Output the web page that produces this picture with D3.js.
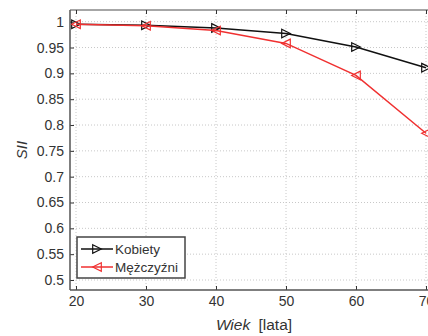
<!DOCTYPE html>
<html>
<head>
<meta charset="utf-8">
<script src="https://cdn.jsdelivr.net/npm/d3@7"></script>
<style>
  body { margin: 0; background: #fff; }
  svg { display: block; font-family: "Liberation Sans", Arial, sans-serif; }
</style>
</head>
<body>
<div id="chart"></div>
<script>
// data
const ages = [20, 30, 40, 50, 60, 70];
const kobiety = [0.995, 0.993, 0.988, 0.977, 0.951, 0.911];
const mezczyzni = [0.995, 0.992, 0.983, 0.958, 0.896, 0.784];
const yTicks = [0.5, 0.55, 0.6, 0.65, 0.7, 0.75, 0.8, 0.85, 0.9, 0.95, 1];
const seriesNames = ["Kobiety", "Mężczyźni"];

const width = 428, height = 336;
const plotLeft = 70, plotTop = 10, plotBottom = 290, plotRight = 440;

const svg = d3.select("#chart").append("svg")
    .attr("width", width)
    .attr("height", height);

// scales, the plot runs past the right edge of the picture
const x = d3.scaleLinear().domain([20, 70]).range([76, 426]);
const y = d3.scaleLinear().domain([0.5, 1]).range([280, 21.7]);

// grid
const grid = svg.append("g").attr("stroke", "#c8c8c8").attr("stroke-dasharray", "1,2");
grid.selectAll(".gy").data(yTicks).enter().append("line")
    .attr("x1", plotLeft).attr("x2", plotRight)
    .attr("y1", d => y(d)).attr("y2", d => y(d));
grid.selectAll(".gx").data(ages).enter().append("line")
    .attr("x1", d => x(d)).attr("x2", d => x(d))
    .attr("y1", plotTop).attr("y2", plotBottom);

// frame
svg.append("line").attr("x1", plotLeft).attr("x2", plotRight).attr("y1", plotTop).attr("y2", plotTop)
    .attr("stroke", "#888").attr("stroke-width", 1.5);

// axes with inner ticks
const yAxis = d3.axisLeft(y).tickValues(yTicks).tickSize(-4).tickPadding(6)
    .tickFormat(d => d3.format("")(+d.toFixed(2)));
const gy = svg.append("g").attr("transform", `translate(${plotLeft},0)`).call(yAxis);
gy.select(".domain").remove();
svg.append("line").attr("x1", plotLeft).attr("x2", plotLeft).attr("y1", plotTop).attr("y2", plotBottom)
    .attr("stroke", "#555").attr("stroke-width", 1.5);

const xAxis = d3.axisBottom(x).tickValues(ages).tickSize(-4).tickPadding(6);
const gx = svg.append("g").attr("transform", `translate(0,${plotBottom})`).call(xAxis);
gx.select(".domain").remove();
svg.append("line").attr("x1", plotLeft).attr("x2", plotRight).attr("y1", plotBottom).attr("y2", plotBottom)
    .attr("stroke", "#555").attr("stroke-width", 1.5);

const xTop = d3.axisTop(x).tickValues(ages).tickSize(-4).tickFormat("");
const gt = svg.append("g").attr("transform", `translate(0,${plotTop})`).call(xTop);
gt.select(".domain").remove();

svg.selectAll(".tick text").attr("font-size", 14).attr("fill", "#333")
    .attr("font-family", "Liberation Sans, Arial, sans-serif");
svg.selectAll(".tick line").attr("stroke", "#333");

// lines and markers
const colors = ["#111", "#f03030"];
const all = [kobiety, mezczyzni];
const tri = (dir) => {
  const s = 4.3;
  return dir > 0 ? `M${-s},${-s}L${s},0L${-s},${s}Z` : `M${s},${-s}L${-s},0L${s},${s}Z`;
};
const line = d3.line().x((d, i) => x(ages[i])).y(d => y(d));
all.forEach((vals, k) => {
  svg.append("path").datum(vals)
      .attr("d", line)
      .attr("fill", "none")
      .attr("stroke", colors[k])
      .attr("stroke-width", 1.5);
  svg.selectAll(".m" + k).data(vals).enter().append("path")
      .attr("transform", (d, i) => `translate(${x(ages[i])},${y(d)})`)
      .attr("d", tri(k === 0 ? 1 : -1))
      .attr("fill", "none")
      .attr("stroke", colors[k])
      .attr("stroke-width", 1.2);
});

// legend
const lg = svg.append("g");
lg.append("rect").attr("x", 77).attr("y", 237).attr("width", 108).attr("height", 41)
    .attr("fill", "#fff").attr("stroke", "#444").attr("stroke-width", 1.5);
seriesNames.forEach((name, k) => {
  const ly = 249 + k * 18;
  lg.append("line").attr("x1", 81).attr("x2", 113).attr("y1", ly).attr("y2", ly)
      .attr("stroke", colors[k]).attr("stroke-width", 1.5);
  lg.append("path").attr("transform", `translate(97,${ly})`)
      .attr("d", tri(k === 0 ? 1 : -1))
      .attr("fill", "none").attr("stroke", colors[k]).attr("stroke-width", 1.2);
  lg.append("text").attr("x", 115).attr("y", ly + 5)
      .attr("font-size", 13.5).attr("fill", "#333").text(name);
});

// axis titles
const xt = svg.append("text").attr("x", 254).attr("y", 330)
    .attr("text-anchor", "middle").attr("font-size", 15.5).attr("fill", "#333");
xt.append("tspan").attr("font-style", "italic").text("Wiek");
xt.append("tspan").attr("dx", 4).text(" [lata]");

svg.append("text").attr("transform", "translate(27,150) rotate(-90)")
    .attr("text-anchor", "middle").attr("font-size", 15).attr("font-style", "italic")
    .attr("fill", "#333").text("SII");
</script>
</body>
</html>
